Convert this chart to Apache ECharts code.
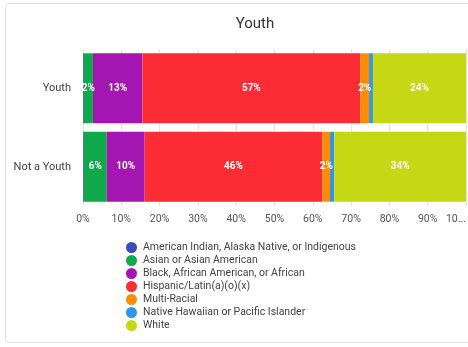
<!DOCTYPE html>
<html>
<head>
<meta charset="utf-8">
<script src="https://cdn.jsdelivr.net/npm/echarts@6/dist/echarts.min.js"></script>
<style>
html,body{margin:0;padding:0;background:#fff;overflow:hidden;}
#card{position:absolute;left:5px;top:3px;width:480px;height:340px;border:1px solid #e3e3e3;border-radius:4px;box-sizing:border-box;}
#chart{position:absolute;left:0;top:0;width:468px;height:347px;}
</style>
</head>
<body>
<div id="card"></div>
<div id="chart"></div>
<script>
const categories = ['Youth', 'Not a Youth'];
const seriesNames = [
  'American Indian, Alaska Native, or Indigenous',
  'Asian or Asian American',
  'Black, African American, or African',
  'Hispanic/Latin(a)(o)(x)',
  'Multi-Racial',
  'Native Hawaiian or Pacific Islander',
  'White'
];
const americanIndian = [0.2, 0.2];
const asian = [2.4, 6.0];
const black = [12.9, 9.9];
const hispanic = [56.9, 46.4];
const multiRacial = [2.3, 2.0];
const nativeHawaiian = [1.0, 1.1];
const white = [24.3, 34.4];
const xTicks = [0, 10, 20, 30, 40, 50, 60, 70, 80, 90, 100];

const seriesValues = [americanIndian, asian, black, hispanic, multiRacial, nativeHawaiian, white];
const colors = ['#3a4bbf', '#0fa94b', '#a316b1', '#fb2c33', '#ff8c00', '#2f96e6', '#c5d813'];

const chart = echarts.init(document.getElementById('chart'), null, {renderer: 'canvas'});
chart.setOption({
  animation: false,
  title: {
    text: 'Youth', left: 250, top: 12, textAlign: 'center',
    textStyle: {fontFamily: 'Roboto', fontSize: 15, fontWeight: 'normal', color: '#333'}
  },
  color: colors,
  legend: {
    orient: 'vertical', left: 121, top: 237,
    itemWidth: 11, itemHeight: 11, itemGap: 2, icon: 'circle',
    textStyle: {fontFamily: 'Roboto', fontSize: 10.5, color: '#444', padding: [0, 0, 0, 1]},
    data: seriesNames
  },
  grid: {left: 83, right: 2, top: 49, height: 157, containLabel: false, outerBoundsMode: 'none'},
  xAxis: {
    type: 'value', min: 0, max: 100, interval: 10,
    axisLine: {show: false}, axisTick: {show: false},
    splitLine: {lineStyle: {color: '#e6e6e6'}},
    axisLabel: {
      fontFamily: 'Roboto', fontSize: 10.5, color: '#555', margin: 8,
      formatter: v => (v === 100 ? '10...' : v + '%'),
      customValues: xTicks,
      alignMaxLabel: 'right'
    }
  },
  yAxis: {
    type: 'category', inverse: true, data: categories,
    axisLine: {show: false}, axisTick: {show: false},
    axisLabel: {fontFamily: 'Roboto', fontSize: 11, color: '#444', margin: 12}
  },
  series: seriesNames.map((name, i) => ({
    name: name, type: 'bar', stack: 'total', barCategoryGap: '11%',
    data: seriesValues[i],
    label: {
      show: true, position: 'inside',
      fontFamily: 'Roboto', fontSize: 10, fontWeight: 'bold', color: '#fff',
      formatter: p => (p.value >= 1.5 ? Math.round(p.value) + '%' : '')
    }
  }))
});
</script>
</body>
</html>
